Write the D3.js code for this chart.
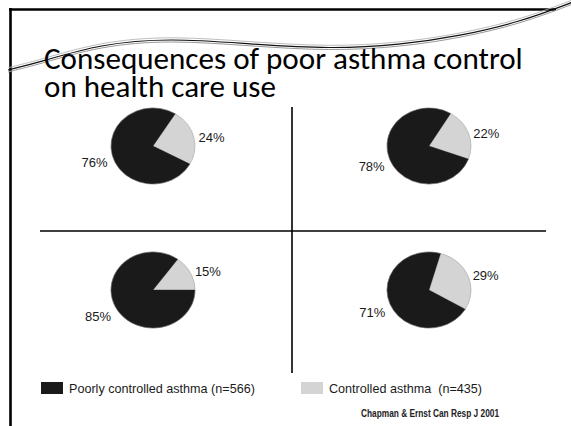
<!DOCTYPE html>
<html>
<head>
<meta charset="utf-8">
<script src="https://cdn.jsdelivr.net/npm/d3@7"></script>
<style>
  html, body { margin: 0; padding: 0; background: #fff; }
  svg { display: block; }
</style>
</head>
<body>
<svg id="chart" width="571" height="426"></svg>
<script>
// ---- data ----
const titleLines = ["Consequences of poor asthma control", "on health care use"];
const seriesNames = ["Poorly controlled asthma (n=566)", "Controlled asthma  (n=435)"];
const poorlyControlled = [76, 78, 85, 71];
const controlled = [24, 22, 15, 29];
const sourceNote = "Chapman & Ernst Can Resp J 2001";
// start angle (degrees, clockwise from 12 o'clock) of the controlled slice in each pie
const sliceRotation = [32, 31, 36, 16];

// ---- styles ----
const colors = { poor: "#1a1a1a", ctrl: "#d4d4d4" };
const svg = d3.select("#chart");
const W = 571, H = 426;

// slide frame
svg.append("line").attr("x1", 10.5).attr("x2", 10.5).attr("y1", 8).attr("y2", H)
  .attr("stroke", "#000").attr("stroke-width", 2.6);
svg.append("line").attr("x1", 9).attr("x2", 556).attr("y1", 9.5).attr("y2", 9.5)
  .attr("stroke", "#000").attr("stroke-width", 2.6);

// decorative swoosh
const curve = d3.line().curve(d3.curveBasis);
const swoosh = [[8,70],[40,62],[100,44],[170,38],[250,44],[330,49],[400,45],[460,36],[520,22],[573,2]];
svg.append("path").attr("d", curve(swoosh.map(p => [p[0], p[1] + 2])))
  .attr("fill", "none").attr("stroke", "#9a9a9a").attr("stroke-width", 1);
svg.append("path").attr("d", curve(swoosh.map(p => [p[0], p[1] - 2.2])))
  .attr("fill", "none").attr("stroke", "#b5b5b5").attr("stroke-width", 0.9);
svg.append("path").attr("d", curve(swoosh))
  .attr("fill", "none").attr("stroke", "#111").attr("stroke-width", 1.2);

// title
const titleFont = "Carlito, 'Open Sans', 'Noto Sans', sans-serif";
const t1 = svg.append("text").attr("x", 44).attr("y", 69)
  .attr("font-family", titleFont).attr("font-size", 24).attr("fill", "#000").text(titleLines[0]);
const w1 = t1.node().getComputedTextLength();
const fs = 24 * 479 / w1;
t1.attr("font-size", fs);
svg.append("text").attr("x", 44).attr("y", 97)
  .attr("font-family", titleFont).attr("font-size", fs).attr("fill", "#000").text(titleLines[1]);

// quadrant dividers
svg.append("line").attr("x1", 292).attr("x2", 292).attr("y1", 107).attr("y2", 373)
  .attr("stroke", "#000").attr("stroke-width", 1.6);
svg.append("line").attr("x1", 40).attr("x2", 546).attr("y1", 231).attr("y2", 231)
  .attr("stroke", "#000").attr("stroke-width", 1.6);

// pies
const colX = d3.scalePoint().domain([0, 1]).range([153, 429]);
const rowY = d3.scalePoint().domain([0, 1]).range([146, 290]);
const rx = 42, ry = 38;
const pie = d3.pie().sort(null).value(d => d.v);
const arc = d3.arc().innerRadius(0).outerRadius(rx);
const labelFont = "'Liberation Sans', Arial, sans-serif";

poorlyControlled.forEach((pv, i) => {
  const cx = colX(i % 2), cy = rowY(Math.floor(i / 2));
  const start = sliceRotation[i] * Math.PI / 180;
  const data = [{ k: "ctrl", v: controlled[i] }, { k: "poor", v: pv }];
  const arcs = pie.startAngle(start).endAngle(start + 2 * Math.PI)(data);
  const g = svg.append("g").attr("transform", `translate(${cx},${cy}) scale(1,${ry / rx})`);
  g.selectAll("path").data(arcs).join("path")
    .attr("d", arc)
    .attr("fill", d => colors[d.data.k])
    .attr("stroke", d => colors[d.data.k])
    .attr("stroke-width", 0.4);
  g.append("ellipse").attr("rx", rx).attr("ry", rx).attr("fill", "none")
    .attr("stroke", "#8a8a8a").attr("stroke-width", 0.7).attr("opacity", 0.6);
  arcs.forEach(a => {
    const m = (a.startAngle + a.endAngle) / 2;
    const s = Math.sin(m), c = Math.cos(m);
    const right = s >= 0;
    svg.append("text")
      .attr("x", cx + (rx + 5) * s)
      .attr("y", cy - (ry + 12) * c + 4)
      .attr("dy", "0.35em")
      .attr("text-anchor", right ? "start" : "end")
      .attr("font-family", labelFont).attr("font-size", 13).attr("fill", "#1a1a1a")
      .text(a.data.v + "%");
  });
});

// legend
const legend = [
  { name: seriesNames[0], color: colors.poor, x: 41 },
  { name: seriesNames[1], color: colors.ctrl, x: 301 }
];
legend.forEach(l => {
  svg.append("rect").attr("x", l.x).attr("y", 382).attr("width", 22).attr("height", 12).attr("fill", l.color);
  svg.append("text").attr("x", l.x + 28).attr("y", 393)
    .attr("font-family", labelFont).attr("font-size", 12.6).attr("fill", "#1a1a1a")
    .attr("xml:space", "preserve").style("white-space", "pre")
    .text(l.name);
});

// source
svg.append("text").attr("x", 361).attr("y", 417)
  .attr("font-family", "'Liberation Sans Narrow', 'Arial Narrow', Arial, sans-serif")
  .attr("font-size", 10).attr("font-weight", "bold").attr("fill", "#222")
  .attr("textLength", 138).attr("lengthAdjust", "spacingAndGlyphs")
  .text(sourceNote);
</script>
</body>
</html>
